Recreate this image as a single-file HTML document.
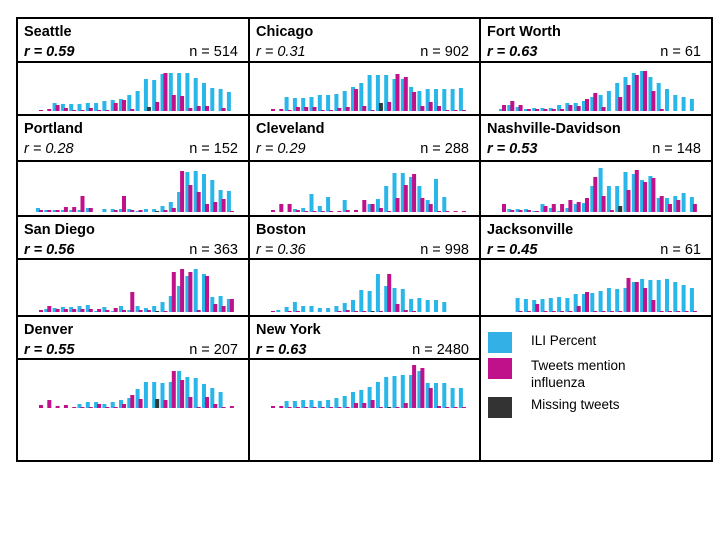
<!DOCTYPE html>
<html><head><meta charset="utf-8"><style>
html,body{margin:0;padding:0;background:#fff;}
svg{display:block;font-family:"Liberation Sans",sans-serif;}
</style></head><body>
<svg id="s" width="720" height="540" xmlns="http://www.w3.org/2000/svg"></svg>
<script>
const S=document.getElementById('s');
let h='';
const cols=[17,249,480,712];
const rows=[[18,62,115,111],[115,161,216,212],[216,259,316,312],[316,359,461,408]];
const cities=[
["Seattle","0.59",1,"514",0,0,[0,0,8,7,7,7,8,8,10,11,12,16,20,32,31,37,38,38,38,33,28,23,22,19],[1,2,6,3,1,1,3,1,1,8,11,2,0,-4,9,38,16,15,3,5,5,0,3,0]],
["Chicago","0.31",0,"902",0,1,[0,0,14,13,13,14,16,16,17,20,24,28,36,36,36,32,32,24,20,22,22,22,22,23],[2,2,1,4,4,4,1,1,3,4,22,5,1,-8,9,37,34,19,5,9,5,1,1,1]],
["Fort Worth","0.63",1,"61",0,2,[2,6,4,2,3,3,3,6,8,8,10,14,16,20,28,34,38,40,34,28,22,16,14,12],[6,10,6,2,2,2,2,2,6,5,12,18,4,0,14,26,36,40,20,2,0,0,0,0]],
["Portland","0.28",0,"152",1,0,[4,2,2,2,2,2,4,0,3,3,3,3,1,3,3,6,10,20,40,41,38,32,22,21],[2,2,2,5,5,16,4,0,0,2,16,2,2,0,-1,2,4,41,27,20,8,10,13,1]],
["Cleveland","0.29",0,"288",1,1,[0,0,0,3,4,18,6,15,0,12,0,0,8,13,26,39,39,35,26,12,33,15,0,0],[2,8,8,2,1,1,1,1,1,2,2,12,8,4,1,14,27,38,14,8,1,1,1,1]],
["Nashville-Davidson","0.53",1,"148",1,2,[0,3,3,3,1,8,4,1,4,8,9,26,44,26,26,40,38,32,36,14,14,16,19,15],[8,2,2,2,1,6,8,8,12,10,14,35,16,2,-6,22,42,30,34,16,8,12,0,8]],
["San Diego","0.56",1,"363",2,0,[0,3,4,5,5,6,7,1,5,1,6,2,6,4,6,10,16,26,36,43,38,15,16,13],[2,6,3,3,3,3,3,3,2,4,2,20,2,2,-1,1,40,43,40,2,36,8,6,13]],
["Boston","0.36",0,"998",2,1,[0,2,5,10,6,6,4,4,6,9,12,22,21,38,26,24,23,13,14,12,12,10,0,0],[1,0,1,1,0,0,0,0,1,2,1,1,-1,1,38,8,2,1,0,0,0,0,0,0]],
["Jacksonville","0.45",1,"61",2,2,[0,0,14,13,12,13,14,15,14,18,18,19,21,24,23,24,30,33,32,32,33,30,27,24,14],[0,0,1,1,8,1,1,1,1,6,20,1,1,1,1,34,30,24,12,1,1,1,1,1,2]],
["Denver","0.55",1,"207",3,0,[0,0,0,0,0,4,6,6,4,6,8,10,19,26,26,25,26,37,31,30,24,20,16,0],[3,8,2,3,1,1,1,4,1,1,4,13,9,0,-9,8,37,28,11,1,11,4,1,2]],
["New York","0.63",1,"2480",3,1,[0,0,7,7,8,8,7,8,10,12,16,18,21,26,31,32,33,33,37,25,25,25,20,20],[2,2,1,1,1,1,1,1,1,1,5,5,8,1,-1,1,5,43,40,20,2,1,1,1]]
];
const C='#29b6e8',M='#c0118a',D='#2e3b3b';
for(const c of cities){
  const [name,r,b,n,ri,ci,cy,mg]=c;
  const x0=cols[ci],x1=cols[ci+1],R=rows[ri];
  h+=`<text x="${x0+7}" y="${R[0]+18}" font-size="14.5" font-weight="bold">${name}</text>`;
  h+=`<text x="${x0+7}" y="${R[0]+38}" font-size="14.5" font-style="italic" ${b?'font-weight="bold"':''}>r = ${r}</text>`;
  h+=`<text x="${x1-11}" y="${R[0]+38}" font-size="14.5" text-anchor="end">n = ${n}</text>`;
  const base=R[3];
  for(let i=0;i<24;i++){
    const x=x0+20+i*8.3;
    const cv=cy[i]||0, mv=mg[i]||0;
    if(cv>0)h+=`<rect x="${x-1}" y="${base-cv}" width="4" height="${cv}" fill="${C}"/>`;
    if(mv>0)h+=`<rect x="${x+2}" y="${base-mv}" width="4" height="${mv}" fill="${M}"/>`;
    if(mv<0)h+=`<rect x="${x+2}" y="${base+mv}" width="4" height="${-mv}" fill="${D}"/>`;
  }
}
h+=`<g stroke="#000" stroke-width="2" fill="none">`;
h+=`<rect x="17" y="18" width="695" height="443"/>`;
h+=`<line x1="249" y1="18" x2="249" y2="461"/><line x1="480" y1="18" x2="480" y2="461"/>`;
for(const R of rows.slice(1)) h+=`<line x1="17" y1="${R[0]}" x2="712" y2="${R[0]}"/>`;
for(const R of rows.slice(0,3)) h+=`<line x1="17" y1="${R[1]}" x2="712" y2="${R[1]}"/>`;
h+=`<line x1="17" y1="359" x2="480" y2="359"/>`;
h+=`</g>`;
h+=`<rect x="488" y="332" width="24" height="21" fill="#33b0e6"/>`;
h+=`<rect x="488" y="358" width="24" height="21" fill="#c0118a"/>`;
h+=`<rect x="488" y="397" width="24" height="21" fill="#333"/>`;
h+=`<text x="531" y="345" font-size="13.5">ILI Percent</text>`;
h+=`<text x="531" y="370" font-size="13.5">Tweets mention</text>`;
h+=`<text x="531" y="387" font-size="13.5">influenza</text>`;
h+=`<text x="531" y="409" font-size="13.5">Missing tweets</text>`;
S.innerHTML=h;
</script>
</body></html>
